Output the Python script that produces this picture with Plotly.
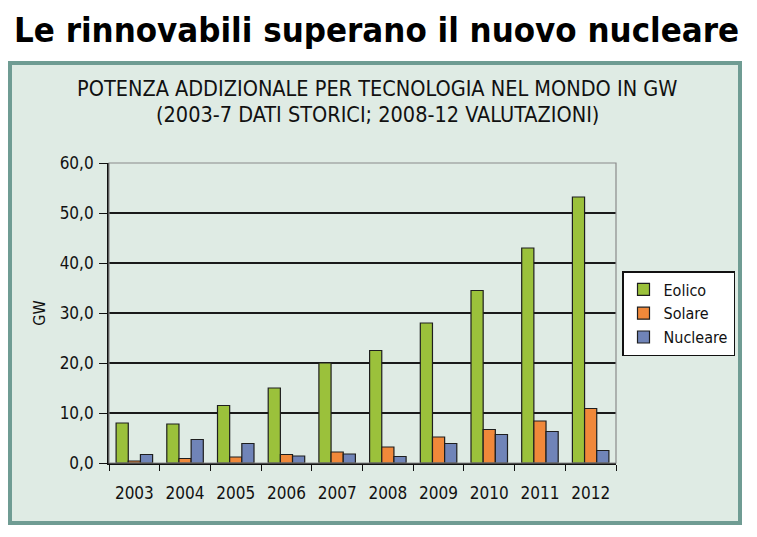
import plotly.graph_objects as go

anni = ["2003", "2004", "2005", "2006", "2007", "2008", "2009", "2010", "2011", "2012"]
eolico = [8.0, 7.8, 11.5, 15.0, 20.0, 22.5, 28.0, 34.5, 43.0, 53.2]
solare = [0.4, 0.9, 1.2, 1.7, 2.2, 3.2, 5.2, 6.7, 8.4, 10.9]
nucleare = [1.7, 4.7, 3.9, 1.4, 1.8, 1.3, 3.9, 5.7, 6.3, 2.5]
y_ticks = [0, 10, 20, 30, 40, 50, 60]

W, H = 757, 537
L, R, T, B = 109, 616, 163, 463   # area del grafico in pixel


def px(x):
    return (x - L) / (R - L)


def py(y):
    return (B - y) / (B - T)


narrow = "DejaVu Sans Condensed, Liberation Sans Narrow, sans-serif"

fig = go.Figure()
serie = [("Eolico", eolico, "#9bc13b"), ("Solare", solare, "#f0883a"), ("Nucleare", nucleare, "#7084b8")]
for nome, valori, colore in serie:
    fig.add_trace(go.Bar(
        x=anni, y=valori, name=nome,
        marker=dict(color=colore, line=dict(color="#1e1e1e", width=1.2)),
    ))

# riquadro esterno verde
fig.add_shape(type="rect", xref="paper", yref="paper",
              x0=px(10), x1=px(740), y0=py(523), y1=py(63),
              line=dict(color="#6f9c93", width=4), fillcolor="#dfebe4", layer="below")
# bordo grigio dell'area del grafico
fig.add_shape(type="rect", xref="paper", yref="paper", x0=0, x1=1, y0=0, y1=1,
              line=dict(color="#8a8a8a", width=1.2))

fig.add_annotation(text="Le rinnovabili superano il nuovo nucleare",
                   xref="paper", yref="paper", x=px(376), y=py(30),
                   xanchor="center", yanchor="middle", showarrow=False,
                   font=dict(family=narrow, size=34.5, color="black", weight="bold"))
fig.add_annotation(text="POTENZA ADDIZIONALE PER TECNOLOGIA NEL MONDO IN GW",
                   xref="paper", yref="paper", x=px(377), y=py(88),
                   xanchor="center", yanchor="middle", showarrow=False,
                   font=dict(family=narrow, size=21.5, color="#111"))
fig.add_annotation(text="(2003-7 DATI STORICI; 2008-12 VALUTAZIONI)",
                   xref="paper", yref="paper", x=px(377), y=py(114),
                   xanchor="center", yanchor="middle", showarrow=False,
                   font=dict(family=narrow, size=21.5, color="#111"))

fig.update_layout(
    width=W, height=H,
    margin=dict(l=L, r=W - R, t=T, b=H - B, pad=0),
    paper_bgcolor="white",
    plot_bgcolor="#dee6f3",
    barmode="group",
    bargap=0.28,
    bargroupgap=0,
    separators=",.",
    font=dict(family=narrow, size=17, color="#111"),
    showlegend=True,
    legend=dict(x=px(622), y=py(271), xanchor="left", yanchor="top",
                bgcolor="white", bordercolor="#111", borderwidth=1.5,
                font=dict(size=16), tracegroupgap=0, itemwidth=30),
    xaxis=dict(
        showline=True, linecolor="#111", linewidth=1.5,
        ticks="outside", tickson="boundaries", ticklen=6, tickcolor="#111", tickwidth=1.2,
        showgrid=False, tickfont=dict(size=17), ticklabelstandoff=14,
    ),
    yaxis=dict(
        range=[0, 60], tickvals=y_ticks, tickformat=".1f",
        showline=True, linecolor="#111", linewidth=1.8,
        ticks="outside", ticklen=8, tickcolor="#111", tickwidth=1.2,
        showgrid=True, gridcolor="#1a1a1a", gridwidth=1.5,
        zeroline=False, tickfont=dict(size=17), ticklabelstandoff=2,
        title=dict(text="GW", font=dict(size=16), standoff=10),
    ),
)

fig.write_html("out.html", config={"displayModeBar": False},
               post_script="document.body.style.margin='0px';")
